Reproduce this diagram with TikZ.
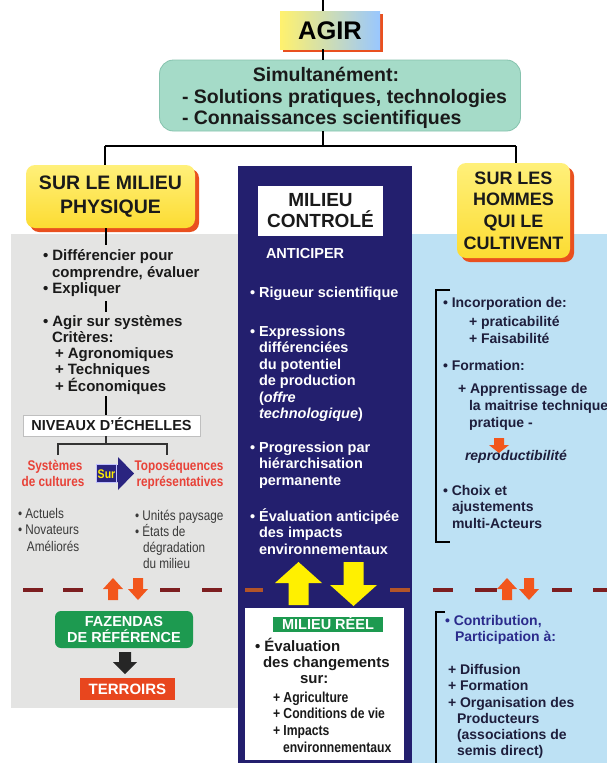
\documentclass[tikz,border=0pt]{standalone}
\usepackage{fontspec}
\setmainfont{Liberation Sans}
\newfontfamily\narrowsf{Liberation Sans}[FakeStretch=0.84]
\usetikzlibrary{calc,shadows}

\definecolor{navy}{HTML}{231F6E}
\definecolor{navyarrow}{HTML}{2A2480}
\definecolor{panelgray}{HTML}{E4E4E3}
\definecolor{panelblue}{HTML}{BDE1F4}
\definecolor{mint}{HTML}{A5DBC8}
\definecolor{mintedge}{HTML}{86C3AE}
\definecolor{yellowlight}{HTML}{FFF07A}
\definecolor{yellowdeep}{HTML}{FCDC32}
\definecolor{shadowred}{HTML}{E9501F}
\definecolor{labelgreen}{HTML}{1D9A50}
\definecolor{terroir}{HTML}{E8461E}
\definecolor{redtxt}{HTML}{E84238}
\definecolor{maroon}{HTML}{7D1E20}
\definecolor{rust}{HTML}{B25428}
\definecolor{arroworange}{HTML}{F2561C}
\definecolor{arrowyellow}{HTML}{FFF000}
\definecolor{inktxt}{HTML}{1A1A1A}
\definecolor{darkink}{HTML}{1E1E3C}
\definecolor{blueink}{HTML}{2B2B8C}
\definecolor{greytxt}{HTML}{3A3A3A}

% column of text lines, one node per line, placed on baselines
\newcommand{\txtcol}[6]{%
  \foreach \txline [count=\txk from 0] in {#6}{%
    \node[#2, anchor=base west] (#1-\txk) at (#3,{#4+\txk*#5}) {\txline};}}
% block arrows pointing up / down
\newcommand{\uparr}[7]{% colour, centre x, tip y, foot y, half head, half stem, head height
  \fill[#1] (#2,#3) -- ({#2+#5},{#3+#7}) -- ({#2+#6},{#3+#7}) -- ({#2+#6},#4)
    -- ({#2-#6},#4) -- ({#2-#6},{#3+#7}) -- ({#2-#5},{#3+#7}) -- cycle;}
\newcommand{\dnarr}[7]{% colour, centre x, top y, tip y, half head, half stem, head height
  \fill[#1] (#2,#4) -- ({#2+#5},{#4-#7}) -- ({#2+#6},{#4-#7}) -- ({#2+#6},#3)
    -- ({#2-#6},#3) -- ({#2-#6},{#4-#7}) -- ({#2-#5},{#4-#7}) -- cycle;}

\tikzset{
  every node/.style={inner sep=0pt, outer sep=0pt},
  conn/.style={draw=black, line width=1.8pt},
  thin conn/.style={draw=black!80, line width=1.4pt},
  bracket/.style={draw=black, line width=1.8pt},
  yellowbox/.style={rounded corners=9pt, top color=yellowlight, bottom color=yellowdeep,
    drop shadow={shadow xshift=4pt, shadow yshift=-4pt, fill=shadowred, opacity=1},
    align=center, text=inktxt, font=\bfseries\fontsize{19.5}{23.4}\selectfont},
  simultxt/.style={text=inktxt, font=\bfseries\fontsize{19.5}{21}\selectfont},
  lefttxt/.style={text=inktxt, font=\bfseries\fontsize{15}{18}\selectfont},
  navytxt/.style={text=white, font=\bfseries\fontsize{14.5}{17}\selectfont},
  righttxt/.style={text=darkink, font=\bfseries\fontsize{14}{17}\selectfont},
  bluetxt/.style={text=blueink, font=\bfseries\fontsize{14}{17}\selectfont},
  redscale/.style={text=redtxt, font=\narrowsf\bfseries\fontsize{14}{16}\selectfont},
  greyscale/.style={text=greytxt, font=\narrowsf\fontsize{14}{16}\selectfont},
  reeltxt/.style={text=inktxt, font=\bfseries\fontsize{15}{17}\selectfont},
  reellist/.style={text=inktxt, font=\narrowsf\bfseries\fontsize{14.5}{16}\selectfont},
  tag/.style={text=white, font=\bfseries\fontsize{14.5}{16}\selectfont, text height=10.4pt, text depth=0pt},
  dashseg/.style={line width=3.5pt, draw=maroon},
  dashnavy/.style={line width=3.5pt, draw=rust},
}

\begin{document}
\begin{tikzpicture}[x=1pt,y=-1pt]
\useasboundingbox (0,0) rectangle (607,763);
\fill[white] (0,0) rectangle (607,763);

% background bands of the three columns
\fill[panelgray] (11,234) rectangle (238,708);
\fill[panelblue] (412,234) rectangle (607,763);
\fill[navy] (238,166) rectangle (412,763);

% ---------------- top of the tree ----------------
\coordinate (top) at (323,0);
\node[minimum width=100pt, minimum height=38pt, left color=yellowlight!90!yellow, right color=cyan!45!blue!40!white,
      drop shadow={shadow xshift=3pt, shadow yshift=-3pt, fill=shadowred, opacity=1},
      font=\bfseries\fontsize{25.5}{26}\selectfont, text height=18.3pt, text depth=0pt] (agir) at (330,30) {AGIR};
\draw[conn] (top) -- (top |- agir.north);

\node[rounded corners=14pt, fill=mint, draw=mintedge, line width=0.8pt,
      minimum width=361pt, minimum height=71pt] (simul) at (340,95.5) {};
\node[anchor=base, simultxt] (simul-t) at (326,81) {Simultanément:};
\node[anchor=base west, simultxt] (simul-a) at (182,103) {- Solutions pratiques, technologies};
\node[anchor=base west, simultxt] (simul-b) at (182,124.5) {- Connaissances scientifiques};
\draw[conn] (agir.south -| top) -- (simul.north -| top);

\coordinate (hub) at (323,146);
\coordinate (lbranch) at (105,146);
\coordinate (rbranch) at (516,146);
\draw[conn] (simul.south -| top) -- (hub);
\draw[conn] (lbranch) -- (rbranch);

% ---------------- left column: physical environment ----------------
\node[yellowbox, minimum width=169pt, minimum height=63pt] (phys) at (110.5,196.5) {SUR LE MILIEU\\PHYSIQUE};
\draw[conn] (lbranch) -- (lbranch |- phys.north);

\coordinate (p1) at (106,245);
\draw[conn] (phys.south -| p1) -- (p1);
\txtcol{diff}{lefttxt}{43}{260}{16.5}{• Différencier pour}
\txtcol{comp}{lefttxt}{52}{277}{16.5}{{comprendre, évaluer}}
\txtcol{expl}{lefttxt}{43}{293}{16.5}{• Expliquer}
\coordinate (p2a) at (106,301);
\coordinate (p2b) at (106,312);
\draw[conn] (p2a) -- (p2b);
\txtcol{agirsys}{lefttxt}{43}{326}{16.5}{• Agir sur systèmes}
\txtcol{crit}{lefttxt}{52}{342}{16.5}{Critères:}
\txtcol{critlist}{lefttxt}{55}{358}{16.5}{+ Agronomiques,+ Techniques,+ Économiques}

\node[fill=white, draw=black!25, line width=0.5pt, minimum width=177pt, minimum height=21pt,
      text=inktxt, font=\bfseries\fontsize{14.5}{16}\selectfont, text height=10.4pt, text depth=0pt] (niv) at (111.5,425.5) {NIVEAUX D’ÉCHELLES};
\coordinate (p3) at (106,396);
\draw[conn] (p3) -- (p3 |- niv.north);

\coordinate (bk) at (106,444);
\coordinate (bkl) at (58,444);
\coordinate (bkr) at (167,444);
\draw[thin conn] (niv.south -| bk) -- (bk);
\draw[thin conn] ($(bkl)+(0,11)$) -- (bkl) -- (bkr) -- ($(bkr)+(0,11)$);

\node[redscale, anchor=base] (sys1) at (55,470) {Systèmes};
\node[redscale, anchor=base] (sys2) at (53,486) {de cultures};
\node[redscale, anchor=base] (topo1) at (179,470) {Toposéquences};
\node[redscale, anchor=base] (topo2) at (180,486) {représentatives};

\fill[navyarrow] (97,465) -- (118,465) -- (118,457) -- (134,473.5) -- (118,490) -- (118,482) -- (97,482) -- cycle;
\draw[blue!25!white, line width=0.6pt] (96.5,464.5) rectangle (116.5,482.5);
\node[text=arrowyellow, font=\narrowsf\bfseries\fontsize{12.5}{13}\selectfont, text height=9pt, text depth=0pt] (sur) at (106.5,473.5) {Sur};

\txtcol{act}{greyscale}{18}{518}{16.5}{• Actuels,• Novateurs}
\txtcol{amel}{greyscale}{27}{551}{16.5}{Améliorés}
\txtcol{unit}{greyscale}{135}{520}{16}{• Unités paysage,• États de}
\txtcol{degr}{greyscale}{143}{552}{16}{dégradation,du milieu}

% dashed boundary between controlled and real environment
\foreach \a/\b in {23/43,63/83,160/180,202/222,433/453,475/497,552/572,593/607}
  \draw[dashseg] (\a,590) -- (\b,590);
\foreach \a/\b in {245/263,390/410}
  \draw[dashnavy] (\a,590) -- (\b,590);
\uparr{arroworange}{113}{578}{600}{10}{5}{11}
\dnarr{arroworange}{138}{578}{600}{10}{5}{11}
\uparr{arroworange}{507}{578}{600}{10}{5}{11}
\dnarr{arroworange}{529}{578}{600}{10}{5}{11}

\node[rounded corners=6pt, fill=labelgreen, minimum width=138pt, minimum height=37pt, align=center,
      text=white, font=\bfseries\fontsize{14.5}{16}\selectfont] (faz) at (124,629.5) {FAZENDAS\\DE RÉFÉRENCE};
\node[fill=terroir, minimum width=95pt, minimum height=22pt, tag, font=\bfseries\fontsize{15}{16}\selectfont] (terr) at (127.5,689) {TERROIRS};
\dnarr{black!85}{125}{652}{674}{12}{6}{12}

% ---------------- middle column: controlled environment ----------------
\node[fill=white, minimum width=125pt, minimum height=50pt, align=center, text=inktxt,
      font=\bfseries\fontsize{19}{21}\selectfont] (ctrl) at (320.5,211) {MILIEU\\CONTROLÉ};
\txtcol{antic}{navytxt}{266}{258}{16.5}{ANTICIPER}
\txtcol{rig}{navytxt}{250}{297}{16.5}{• Rigueur scientifique}
\txtcol{expr}{navytxt}{250}{336}{16.5}{• Expressions}
\txtcol{exprb}{navytxt}{259}{352.5}{16.5}{différenciées,du potentiel,de production,{(\textit{offre}},{\textit{technologique})}}
\txtcol{prog}{navytxt}{250}{452}{16.5}{• Progression par}
\txtcol{progb}{navytxt}{259}{468.5}{16.5}{hiérarchisation,permanente}
\txtcol{eval}{navytxt}{250}{521}{16.5}{• Évaluation anticipée}
\txtcol{evalb}{navytxt}{259}{537.5}{16.5}{des impacts,environnementaux}

\uparr{arrowyellow}{298.5}{562}{605}{23.5}{10}{21}
\dnarr{arrowyellow}{353.5}{562}{606}{23.5}{10}{21}

\fill[white] (245,608) rectangle (404,760);
\node[fill=labelgreen, minimum width=110pt, minimum height=15pt, tag] (reel) at (328,624.5) {MILIEU RÉEL};
\txtcol{chg}{reeltxt}{255}{651}{16}{• Évaluation}
\txtcol{chgb}{reeltxt}{263}{667}{16}{des changements}
\txtcol{chgc}{reeltxt}{300}{683}{16}{sur:}
\txtcol{chgl}{reellist}{273}{702}{16.5}{+ Agriculture,+ Conditions de vie,+ Impacts}
\txtcol{chgm}{reellist}{283}{752}{16.5}{environnementaux}

% ---------------- right column: the farmers ----------------
\node[yellowbox, minimum width=113pt, minimum height=95pt, font=\bfseries\fontsize{18}{21.7}\selectfont] (hommes) at (513.5,210.5) {SUR LES\\HOMMES\\QUI LE\\CULTIVENT};
\draw[conn] (rbranch) -- (rbranch |- hommes.north);

\coordinate (rb1t) at (436,290);
\coordinate (rb1b) at (436,542);
\draw[bracket] ($(rb1t)+(14,0)$) -- (rb1t) -- (rb1b) -- ($(rb1b)+(14,0)$);
\txtcol{inc}{righttxt}{443}{307}{17}{• Incorporation de:}
\txtcol{incl}{righttxt}{469}{326}{17}{+ praticabilité,+ Faisabilité}
\txtcol{form}{righttxt}{443}{370}{17}{• Formation:}
\txtcol{app}{righttxt}{458}{393}{17}{+ Apprentissage de}
\txtcol{appb}{righttxt}{469}{410}{17}{la maitrise technique,pratique -}
\dnarr{arroworange}{499}{438}{453}{10}{5}{8}
\txtcol{repr}{righttxt}{465}{460}{17}{\textit{reproductibilité}}
\txtcol{choix}{righttxt}{443}{495}{16.5}{• Choix et}
\txtcol{choixb}{righttxt}{452}{511.5}{16.5}{ajustements,multi-Acteurs}

\coordinate (rb2t) at (436,612);
\coordinate (rb2b) at (436,763);
\draw[bracket] ($(rb2t)+(9,0)$) -- (rb2t) -- (rb2b);
\txtcol{contr}{bluetxt}{445}{625}{16}{{• Contribution,}}
\txtcol{contrb}{bluetxt}{455}{641}{16}{Participation à:}
\txtcol{diffu}{righttxt}{448}{674}{16.5}{+ Diffusion,+ Formation,+ Organisation des}
\txtcol{prod}{righttxt}{457}{723}{16}{Producteurs,{(associations de},{semis direct)}}
\end{tikzpicture}
\end{document}
